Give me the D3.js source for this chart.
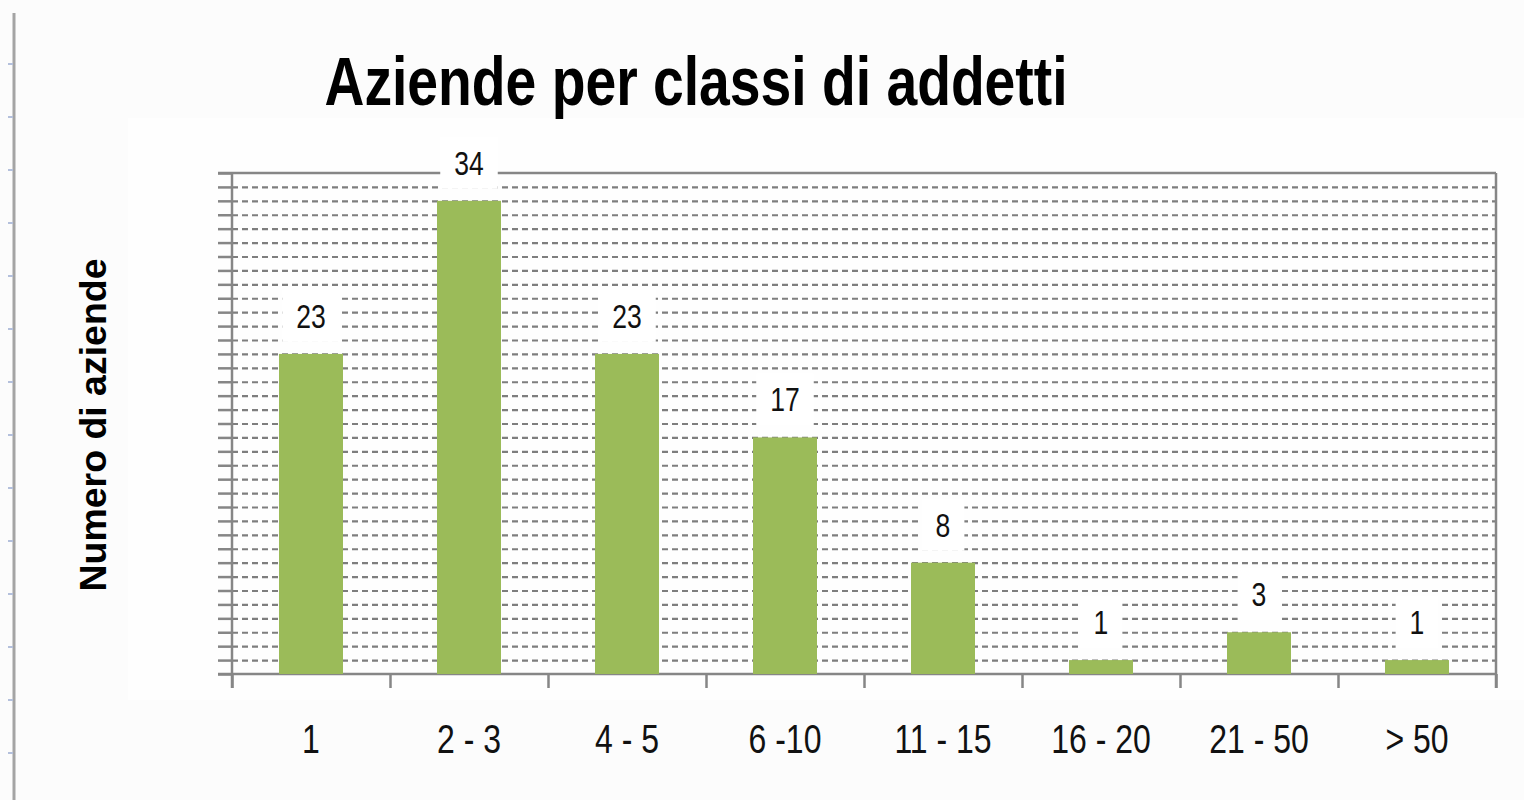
<!DOCTYPE html>
<html>
<head>
<meta charset="utf-8">
<script src="https://cdn.jsdelivr.net/npm/d3@7"></script>
<style>
  body { margin: 0; background: #fcfcfc; }
  svg { display: block; font-family: 'Liberation Sans', Arial, sans-serif; }
  .grid line { stroke: #7e7e7e; stroke-width: 2.2; stroke-dasharray: 6 4; }
  .axis path, .axis line { stroke: #868686; stroke-width: 2.5; }
</style>
</head>
<body>
<div id="chart"></div>
<script>
// data
const classi = ['1', '2 - 3', '4 - 5', '6 -10', '11 - 15', '16 - 20', '21 - 50', '> 50'];
const aziende = [23, 34, 23, 17, 8, 1, 3, 1];
const yMax = 36;

const W = 1524;
const H = 800;
const plot = { left: 232, right: 1496, top: 173, bottom: 674 };
const SQUEEZE = 0.78; // the source picture is narrowed horizontally

// shrink a text to a share of its natural width
function squeeze($t, k) {
  const w = $t.node().getComputedTextLength();
  $t.attr('textLength', w * k).attr('lengthAdjust', 'spacingAndGlyphs');
  return w * k;
}

const $svg = d3.select('#chart').append('svg')
  .attr('width', W)
  .attr('height', H);

// spreadsheet ruler on the far left
$svg.append('line')
  .attr('x1', 14).attr('x2', 14).attr('y1', 13).attr('y2', H)
  .attr('stroke', '#a4a4a4').attr('stroke-width', 3);
$svg.selectAll('.ruler').data(d3.range(64, H, 53)).join('line')
  .attr('class', 'ruler')
  .attr('x1', 8).attr('x2', 13)
  .attr('y1', d => d).attr('y2', d => d)
  .attr('stroke', '#b4c0dc').attr('stroke-width', 2);

// chart area
$svg.append('rect')
  .attr('x', 128).attr('y', 118)
  .attr('width', W - 128).attr('height', 582)
  .attr('fill', '#fefefe');

// scales
const x = d3.scaleBand()
  .domain(classi)
  .range([plot.left, plot.right])
  .padding(0);
const xEdge = d3.scaleLinear()
  .domain([0, classi.length])
  .range([plot.left, plot.right]);
const y = d3.scaleLinear()
  .domain([0, yMax])
  .range([plot.bottom, plot.top]);

// dashed gridlines, one per unit
const $grid = $svg.append('g')
  .attr('class', 'grid')
  .attr('transform', `translate(${plot.left},0)`)
  .call(d3.axisLeft(y).tickValues(d3.range(1, yMax)).tickSize(-(plot.right - plot.left)).tickFormat(''));
$grid.select('.domain').remove();

// top border
$svg.append('line')
  .attr('x1', plot.left - 14).attr('x2', plot.right)
  .attr('y1', y(yMax)).attr('y2', y(yMax))
  .attr('stroke', '#868686').attr('stroke-width', 2.5);

// right border
$svg.append('line')
  .attr('x1', plot.right).attr('x2', plot.right)
  .attr('y1', y(yMax)).attr('y2', plot.bottom + 14)
  .attr('stroke', '#868686').attr('stroke-width', 2.5);

// left axis with a tick per unit
$svg.append('g')
  .attr('class', 'axis')
  .attr('transform', `translate(${plot.left},0)`)
  .call(d3.axisLeft(y).tickValues(d3.range(0, yMax + 1)).tickSize(14).tickSizeOuter(0).tickFormat(''))
  .select('.domain')
  .attr('d', `M0,${plot.top}V${plot.bottom + 14}`);

// bottom axis, ticks on category edges
$svg.append('g')
  .attr('class', 'axis')
  .attr('transform', `translate(0,${plot.bottom})`)
  .call(d3.axisBottom(xEdge).tickValues(d3.range(0, classi.length + 1)).tickSize(14).tickSizeOuter(0).tickFormat(''))
  .select('.domain')
  .attr('d', `M${plot.left - 14},0H${plot.right}`);

// bars
const barW = x.bandwidth() * 0.405;
$svg.append('g').selectAll('rect')
  .data(classi)
  .join('rect')
  .attr('x', (d) => x(d) + (x.bandwidth() - barW) / 2)
  .attr('y', (d, i) => y(aziende[i]))
  .attr('width', barW)
  .attr('height', (d, i) => y(0) - y(aziende[i]))
  .attr('fill', '#9bbb59');

// value labels on white boxes
const $labels = $svg.append('g').selectAll('g')
  .data(classi)
  .join('g')
  .attr('transform', (d, i) => `translate(${x(d) + x.bandwidth() / 2},${y(aziende[i]) - 38})`);
$labels.each(function (d, i) {
  const $g = d3.select(this);
  const $box = $g.append('rect').attr('fill', '#ffffff');
  const $t = $g.append('text')
    .attr('text-anchor', 'middle')
    .attr('y', 12)
    .attr('font-size', 34)
    .attr('fill', '#111')
    .text(aziende[i]);
  const w = squeeze($t, SQUEEZE);
  $box.attr('x', -w / 2 - 14).attr('y', -26).attr('width', w + 28).attr('height', 52);
});

// category labels
$svg.append('g').selectAll('text')
  .data(classi)
  .join('text')
  .attr('x', (d) => x(d) + x.bandwidth() / 2)
  .attr('y', 753)
  .attr('text-anchor', 'middle')
  .attr('font-size', 41)
  .attr('fill', '#111')
  .text((d) => d)
  .each(function () { squeeze(d3.select(this), SQUEEZE); });

// title
const $title = $svg.append('text')
  .attr('x', 696)
  .attr('y', 105)
  .attr('text-anchor', 'middle')
  .attr('font-size', 68)
  .attr('font-weight', 'bold')
  .attr('fill', '#000')
  .text('Aziende per classi di addetti');
$title.attr('textLength', 743).attr('lengthAdjust', 'spacingAndGlyphs');

// y axis title
$svg.append('text')
  .attr('transform', 'translate(106,425) rotate(-90)')
  .attr('text-anchor', 'middle')
  .attr('font-size', 36)
  .attr('font-weight', 'bold')
  .attr('fill', '#000')
  .attr('textLength', 333)
  .attr('lengthAdjust', 'spacingAndGlyphs')
  .text('Numero di aziende');
</script>
</body>
</html>
